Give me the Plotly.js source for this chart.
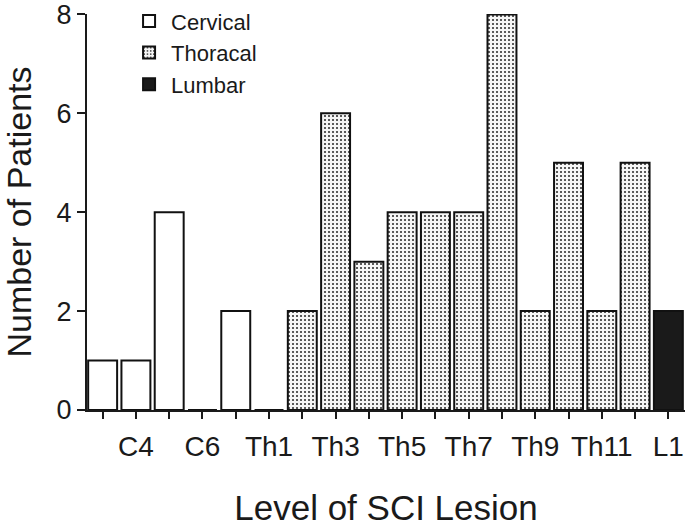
<!DOCTYPE html>
<html>
<head>
<meta charset="utf-8">
<script src="https://cdn.plot.ly/plotly-3.0.1.min.js"></script>
<style>html,body{margin:0;padding:0;background:#fff;}#chart{width:685px;height:527px;}</style>
</head>
<body>
<div id="chart"></div>
<script>
// Data
const cervicalLevels = ["C3", "C4", "C5", "C6", "C7"];
const cervicalCounts = [1, 1, 4, 0, 2];
const thoracalLevels = ["Th1", "Th2", "Th3", "Th4", "Th5", "Th6", "Th7", "Th8", "Th9", "Th10", "Th11", "Th12"];
const thoracalCounts = [0, 2, 6, 3, 4, 4, 4, 8, 2, 5, 2, 5];
const lumbarLevels = ["L1"];
const lumbarCounts = [2];
const allLevels = cervicalLevels.concat(thoracalLevels, lumbarLevels);
const shownTickLabels = ["C4", "C6", "Th1", "Th3", "Th5", "Th7", "Th9", "Th11", "L1"];
const yTicks = [0, 2, 4, 6, 8];

const FONT = "Liberation Sans, Arial, Helvetica, sans-serif";

const traces = [
  {
    type: "bar", name: "Cervical", x: cervicalLevels, y: cervicalCounts,
    marker: {color: "#ffffff", line: {color: "#111111", width: 2}}
  },
  {
    type: "bar", name: "Thoracal", x: thoracalLevels, y: thoracalCounts,
    marker: {
      color: "#ffffff",
      line: {color: "#111111", width: 2},
      pattern: {shape: ".", fgcolor: "#333333", bgcolor: "#f6f6f6", size: 4, solidity: 0.22}
    }
  },
  {
    type: "bar", name: "Lumbar", x: lumbarLevels, y: lumbarCounts,
    marker: {color: "#1a1a1a", line: {color: "#111111", width: 2}}
  }
];

const layout = {
  width: 685, height: 527,
  margin: {l: 87, r: 0, t: 14, b: 117},
  paper_bgcolor: "#ffffff", plot_bgcolor: "#ffffff",
  barmode: "overlay",
  bargap: 0.13,
  font: {family: FONT, color: "#1a1a1a"},
  showlegend: true,
  legend: {
    x: 0.067, y: 1.035, xanchor: "left", yanchor: "top",
    font: {family: FONT, size: 22, color: "#1a1a1a"},
    bgcolor: "rgba(0,0,0,0)", borderwidth: 0,
    itemwidth: 34,
    tracegroupgap: 0
  },
  xaxis: {
    type: "category",
    categoryorder: "array", categoryarray: allLevels,
    range: [-0.47, allLevels.length - 0.5],
    tickmode: "array",
    tickvals: allLevels,
    ticktext: allLevels.map(l => shownTickLabels.includes(l) ? l : ""),
    ticks: "outside", ticklen: 7, tickwidth: 2, tickcolor: "#1a1a1a",
    showline: true, linecolor: "#1a1a1a", linewidth: 2,
    showgrid: false, zeroline: false,
    tickfont: {family: FONT, size: 28, color: "#1a1a1a"},
    ticklabelstandoff: 3,
    title: {text: "Level of SCI Lesion", font: {family: FONT, size: 35, color: "#1a1a1a"}, standoff: 46},
    fixedrange: true
  },
  yaxis: {
    range: [0, 8.01],
    tickmode: "array", tickvals: yTicks, ticktext: yTicks.map(String),
    ticks: "outside", ticklen: 8, tickwidth: 2, tickcolor: "#1a1a1a",
    ticklabeloverflow: "allow",
    showline: true, linecolor: "#1a1a1a", linewidth: 2,
    showgrid: false, zeroline: false,
    tickfont: {family: FONT, size: 27, color: "#1a1a1a"},
    title: {text: "Number of Patients", font: {family: FONT, size: 34, color: "#1a1a1a"}, standoff: 30},
    fixedrange: true
  }
};

Plotly.newPlot("chart", traces, layout, {displayModeBar: false, staticPlot: true});
</script>
</body>
</html>
